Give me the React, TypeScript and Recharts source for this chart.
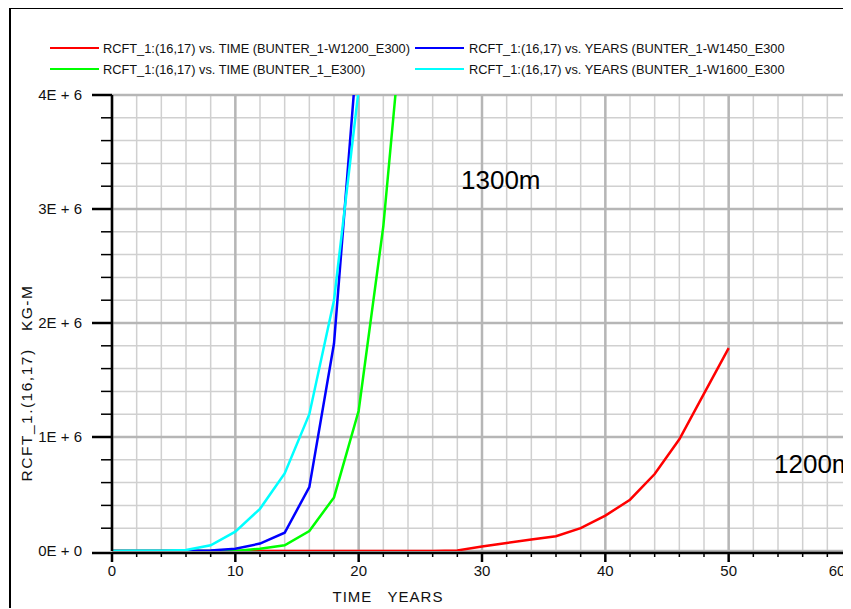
import React from "react";
import { LineChart, Line, XAxis, YAxis, CartesianGrid } from "recharts";

const FONT = '"Liberation Sans", Arial, sans-serif';

// sample years (x)
const YEARS = [0, 2, 4, 6, 8, 10, 12, 14, 16, 18, 20, 22, 24, 26, 28, 30, 32, 34, 36, 38, 40, 42, 44, 46, 48, 50];

// RCFT_1:(16,17) in millions of KG-M
const W1200 = [0, 0, 0, 0, 0, 0, 0, 0, 0, 0, 0, 0, 0, 0, 0.005, 0.04, 0.07, 0.1, 0.13, 0.2, 0.31, 0.45, 0.675, 0.98, 1.38, 1.78];
const BASE = [0, 0, 0, 0, 0, 0, 0.02, 0.05, 0.175, 0.47, 1.23, 2.85, 5.2];
const W1450 = [0, 0, 0, 0, 0.005, 0.02, 0.065, 0.16, 0.56, 1.82, 4.55];
const W1600 = [0, 0.002, 0.003, 0.008, 0.05, 0.17, 0.37, 0.68, 1.2, 2.2, 4.05];

const X_TICKS = [0, 2, 4, 6, 8, 10, 12, 14, 16, 18, 20, 22, 24, 26, 28, 30, 32, 34, 36, 38, 40, 42, 44, 46, 48, 50, 52, 54, 56, 58, 60];
const X_MAJOR = [0, 10, 20, 30, 40, 50, 60];
const Y_TICKS = [
  0, 200000, 400000, 600000, 800000, 1000000, 1200000, 1400000, 1600000, 1800000, 2000000,
  2200000, 2400000, 2600000, 2800000, 3000000, 3200000, 3400000, 3600000, 3800000, 4000000,
];
const Y_MAJOR = [0, 1000000, 2000000, 3000000, 4000000];

const SERIES = [
  { key: "w1200", values: W1200, color: "#ff0000", name: "RCFT_1:(16,17) vs. TIME (BUNTER_1-W1200_E300)", col: 0, row: 0 },
  { key: "base", values: BASE, color: "#00ff00", name: "RCFT_1:(16,17) vs. TIME (BUNTER_1_E300)", col: 0, row: 1 },
  { key: "w1450", values: W1450, color: "#0000ff", name: "RCFT_1:(16,17) vs. YEARS (BUNTER_1-W1450_E300", col: 1, row: 0 },
  { key: "w1600", values: W1600, color: "#00ffff", name: "RCFT_1:(16,17) vs. YEARS (BUNTER_1-W1600_E300", col: 1, row: 1 },
];

const data = YEARS.map((year, i) => {
  const row: any = { year };
  SERIES.forEach((s) => {
    const v = s.values[i];
    row[s.key] = v == null ? null : v * 1e6;
  });
  return row;
});

function XTick(props: any) {
  const { x, y, payload } = props;
  const v = Number(payload.value);
  const major = v % 10 === 0;
  return (
    <g>
      <line x1={x} x2={x} y1={y + 1} y2={y + (major ? 11 : 6)} stroke="#000" strokeWidth={major ? 2.5 : 1.5} />
      {major && (
        <text x={x + (v === 60 ? -15 : 0)} y={y + 20} dy="0.35em" textAnchor="middle" fontSize={15} fontFamily={FONT} fill="#111">
          {v}
        </text>
      )}
    </g>
  );
}

function YTick(props: any) {
  const { x, y, payload } = props;
  const v = Number(payload.value);
  const major = v % 1000000 === 0;
  // the zero tick sits on the (slightly lowered) x axis line
  const ly = v === 0 ? y + 2 : y;
  return (
    <g>
      <line x1={x - (major ? 20 : 11)} x2={x} y1={ly} y2={ly} stroke="#000" strokeWidth={major ? 2.5 : 1.5} />
      {major && (
        <text x={x - 30} y={y} dy="0.35em" textAnchor="end" fontSize={15} fontFamily={FONT} fill="#111" style={{ whiteSpace: "pre" }}>
          {`${v / 1000000}E + ${v === 0 ? 0 : 6}`}
        </text>
      )}
    </g>
  );
}

export default function App() {
  return (
    <div
      style={{
        position: "relative",
        width: 842,
        height: 601,
        margin: "-1px 0 0 1px",
        overflow: "hidden",
        borderTop: "2px solid #000",
        borderLeft: "2px solid #000",
        boxSizing: "border-box",
        background: "#fff",
        fontFamily: FONT,
      }}
    >
      {/* legend, two rows x two columns */}
      {SERIES.map((s) => (
        <div
          key={s.key}
          style={{
            position: "absolute",
            left: s.col ? 404 : 39,
            top: (s.row ? 60 : 39) - 8,
            height: 16,
            display: "flex",
            alignItems: "center",
            whiteSpace: "nowrap",
            fontSize: 12.8,
            color: "#111",
          }}
        >
          <span style={{ display: "inline-block", width: 49, height: 2.5, background: s.color, marginRight: s.col ? 5 : 4 }} />
          <span>{s.name}</span>
        </div>
      ))}

      <div style={{ position: "absolute", left: 0, top: 0 }}>
        <LineChart width={860} height={592} data={data} margin={{ top: 86, right: 19, bottom: 10, left: 0 }}>
          <CartesianGrid stroke="#d0d0d0" strokeWidth={1.5} horizontalValues={Y_TICKS} verticalValues={X_TICKS} />
          <CartesianGrid stroke="#b6b6b6" strokeWidth={2.5} horizontalValues={Y_MAJOR} verticalValues={X_MAJOR} />
          <XAxis
            dataKey="year"
            type="number"
            domain={[0, 60]}
            ticks={X_TICKS}
            interval={0}
            height={40}
            tickSize={0}
            tickMargin={0}
            tickLine={false}
            tick={<XTick />}
            axisLine={{ stroke: "#000", strokeWidth: 2.5, transform: "translate(0, 2)" }}
          />
          <YAxis
            type="number"
            domain={[0, 4000000]}
            allowDataOverflow
            ticks={Y_TICKS}
            interval={0}
            width={101}
            tickSize={0}
            tickMargin={0}
            tickLine={false}
            tick={<YTick />}
            axisLine={{ stroke: "#000", strokeWidth: 2.5 }}
          />
          {SERIES.map((s) => (
            <Line
              key={s.key}
              type="linear"
              dataKey={s.key}
              stroke={s.color}
              strokeWidth={2.5}
              dot={false}
              activeDot={false}
              isAnimationActive={false}
            />
          ))}
        </LineChart>
      </div>

      {/* axis titles */}
      <div
        style={{
          position: "absolute",
          left: 16,
          top: 374,
          transform: "translate(-50%, -50%) rotate(-90deg)",
          whiteSpace: "pre",
          fontSize: 15.5,
          letterSpacing: 1.5,
          color: "#111",
        }}
      >
        {"RCFT_1.(16,17)   KG-M"}
      </div>
      <div
        style={{
          position: "absolute",
          left: 377,
          top: 587,
          transform: "translate(-50%, -50%)",
          whiteSpace: "pre",
          fontSize: 15,
          letterSpacing: 1,
          color: "#111",
        }}
      >
        {"TIME   YEARS"}
      </div>

      {/* depth annotations */}
      <div style={{ position: "absolute", left: 450, top: 158, fontSize: 26, lineHeight: "26px", color: "#000" }}>1300m</div>
      <div style={{ position: "absolute", left: 763, top: 442, fontSize: 26, lineHeight: "26px", color: "#000", whiteSpace: "nowrap" }}>1200m</div>
    </div>
  );
}
